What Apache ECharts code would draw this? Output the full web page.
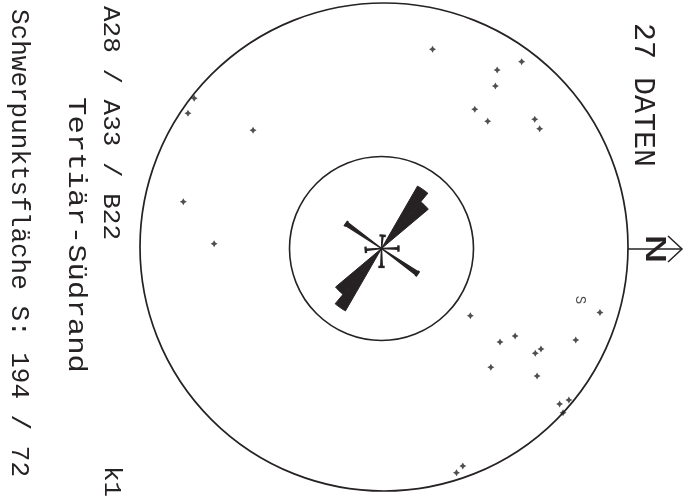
<!DOCTYPE html>
<html>
<head>
<meta charset="utf-8">
<script src="https://cdn.jsdelivr.net/npm/echarts@6/dist/echarts.min.js"></script>
<style>
  html, body { margin: 0; padding: 0; background: #ffffff; }
  #chart { width: 690px; height: 496px; }
</style>
</head>
<body>
<div id="chart"></div>
<script>
// Poles to the measured planes: trend and plunge in degrees (lower hemisphere)
const poleTrend = [283.8, 218.1, 214.3, 221.7, 192.7, 181.1, 306.6, 302.6, 304.7, 303.4,
                   309.5, 319.7, 322.8, 16.9, 38.5, 39.3, 34.2, 35.1, 33.0, 25.9,
                   48.4, 40.1, 41.8, 39.6, 42.8, 72.2, 70.2];
const polePlunge = [17.7, 1.3, 3.1, 28.9, 16.8, 31.0, 6.0, 15.0, 20.9, 32.9,
                    33.6, 20.1, 21.0, 8.3, 52.7, 38.5, 35.3, 25.2, 24.3, 13.7,
                    34.4, 19.1, 3.9, 1.9, 0.0, 3.2, 5.2];

// Rose diagram: class direction (deg) and frequency (%); the inner circle is 25 %
const roseDirection = [305, 315, 125, 135, 215, 35, 275, 0, 90, 175];
const roseFrequency = [19.6, 16.6, 19.6, 16.3, 11.7, 11.9, 3.5, 4.6, 5.0, 4.3];
const roseCircle = 25;

// Centroid plane (dip direction / dip)
const centroidDipDir = 194;
const centroidDip = 72;

const siteCodes = 'A28 / A33 / B22';
const unitName = 'Tertiär-Südrand';
const sheetCode = 'k1';

// ---- layout ----
const INK = '#262223';
const FONT = '"Liberation Mono", "DejaVu Sans Mono", monospace';
const NET_CENTER = [384, 247], NET_R = 244;
const ROSE_CENTER = [381.5, 248.5], ROSE_R = 92;

// Schmidt (equal-area) net: plunge -> radial distance, 0 at centre, 1 on the primitive
function equalArea(plunge) {
  return Math.SQRT2 * Math.sin((90 - plunge) / 2 * Math.PI / 180);
}

const poles = poleTrend.map((t, i) => [equalArea(polePlunge[i]), t]);
const centroidPole = [equalArea(90 - centroidDip), (centroidDipDir + 180) % 360];
const rose = roseFrequency.map((f, i) => [f, roseDirection[i]]);

const chart = echarts.init(document.getElementById('chart'), null, { renderer: 'canvas' });

function hiddenRadius(index, max) {
  return {
    polarIndex: index, type: 'value', min: 0, max: max,
    axisLine: { show: false }, axisTick: { show: false },
    axisLabel: { show: false }, splitLine: { show: false }, splitArea: { show: false }
  };
}
function circleAngle(index, width) {
  return {
    polarIndex: index, type: 'value', min: 0, max: 360,
    startAngle: 0, clockwise: true,
    axisLine: { show: true, lineStyle: { color: INK, width: width } },
    axisTick: { show: false }, axisLabel: { show: false },
    splitLine: { show: false }, splitArea: { show: false }
  };
}

// rotated captions: reading direction runs downwards (north is to the right)
const measureCtx = document.createElement('canvas').getContext('2d');
function sideText(text, x, y0, y1, size, scale) {
  measureCtx.font = size + 'px ' + FONT;
  const w = measureCtx.measureText(text).width;
  return {
    type: 'text', x: x, y: y0, rotation: -Math.PI / 2,
    scaleX: scale != null ? scale : (y1 - y0) / w,
    style: {
      text: text, fill: INK, font: size + 'px ' + FONT,
      textAlign: 'left', textVerticalAlign: 'middle'
    },
    silent: true
  };
}

const arrowY = 249;
const arrowX0 = NET_CENTER[0] + NET_R;

const option = {
  backgroundColor: '#ffffff',
  animation: false,
  polar: [
    { center: NET_CENTER, radius: NET_R },
    { center: ROSE_CENTER, radius: ROSE_R }
  ],
  angleAxis: [circleAngle(0, 1.7), circleAngle(1, 1.6)],
  radiusAxis: [hiddenRadius(0, 1), hiddenRadius(1, roseCircle)],
  series: [
    {
      type: 'scatter', coordinateSystem: 'polar', polarIndex: 0,
      data: poles,
      symbol: 'path://M0,-10 L3.6,-3.6 L10,0 L3.6,3.6 L0,10 L-3.6,3.6 L-10,0 L-3.6,-3.6 Z',
      symbolSize: 7,
      itemStyle: { color: INK },
      silent: true
    },
    {
      type: 'scatter', coordinateSystem: 'polar', polarIndex: 0,
      data: [centroidPole],
      symbolSize: 1,
      itemStyle: { color: 'rgba(0,0,0,0)' },
      label: {
        show: true, formatter: 'S', position: 'inside', rotate: -90, offset: [4, 1],
        color: INK, fontFamily: FONT, fontSize: 14
      },
      silent: true
    },
    {
      type: 'custom', coordinateSystem: 'polar', polarIndex: 1,
      data: rose,
      silent: true,
      renderItem: function (params, api) {
        const val = api.value(0), dir = api.value(1);
        const c = api.coord([0, dir]);
        if (val >= 15) {
          const pts = [c];
          for (let a = dir - 5; a <= dir + 5.001; a += 1) pts.push(api.coord([val, a]));
          return { type: 'polygon', shape: { points: pts }, style: { fill: INK, stroke: INK, lineWidth: 1 } };
        }
        const tip = api.coord([val, dir]);
        const dx = tip[0] - c[0], dy = tip[1] - c[1];
        const len = Math.hypot(dx, dy) || 1;
        const nx = -dy / len, ny = dx / len, cap = 3.2;
        return {
          type: 'group',
          children: [
            { type: 'polygon',
              shape: { points: [c, api.coord([val, dir - 2.5]), api.coord([val, dir + 2.5])] },
              style: { fill: INK, stroke: INK, lineWidth: 1.4 } },
            { type: 'line',
              shape: { x1: tip[0] - nx * cap, y1: tip[1] - ny * cap, x2: tip[0] + nx * cap, y2: tip[1] + ny * cap },
              style: { stroke: INK, lineWidth: 2.4 } }
          ]
        };
      }
    }
  ],
  graphic: [
    sideText(poles.length + ' DATEN', 643, 23, 167, 30),
    sideText(siteCodes, 110, 6, 240, 23),
    sideText(unitName, 76, 97, 373, 25),
    sideText('Schwerpunktsfläche S: ' + centroidDipDir + ' / ' + centroidDip, 19, 9, 477, 25),
    sideText(sheetCode, 111, 466, 490, 23, 1.13),
    // north arrow
    { type: 'line', shape: { x1: arrowX0, y1: arrowY, x2: 682, y2: arrowY },
      style: { stroke: INK, lineWidth: 1.5 }, silent: true },
    { type: 'polyline', shape: { points: [[668, arrowY - 13], [682, arrowY], [668, arrowY + 13]] },
      style: { stroke: INK, lineWidth: 1.5, fill: null }, silent: true },
    { type: 'text', x: 654, y: arrowY, rotation: -Math.PI / 2, scaleX: 1.25, scaleY: 0.72,
      style: { text: 'N', fill: INK, font: '42px ' + FONT, textAlign: 'center', textVerticalAlign: 'middle' },
      silent: true }
  ]
};

chart.setOption(option);
</script>
</body>
</html>
